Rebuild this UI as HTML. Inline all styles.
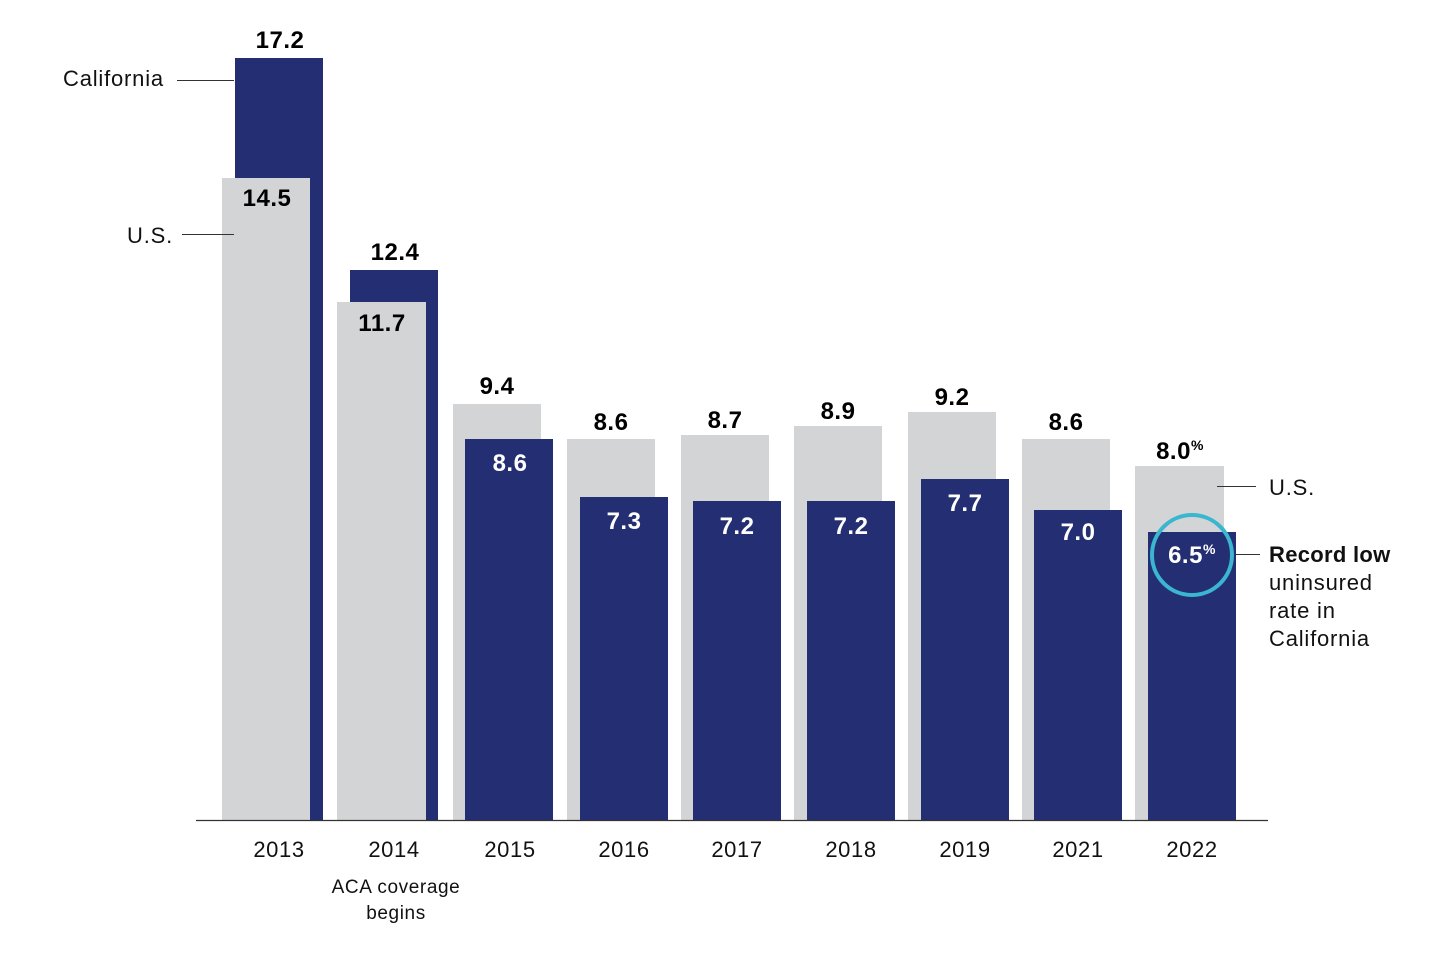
<!DOCTYPE html>
<html><head><style>
body{margin:0;background:#fff;}
svg text{font-family:"Liberation Sans",sans-serif;}
</style></head><body>
<svg width="1433" height="950" viewBox="0 0 1433 950" xmlns="http://www.w3.org/2000/svg">
<rect x="235" y="58" width="88" height="762" fill="#242e72"/>
<rect x="222" y="178" width="88" height="642" fill="#d3d4d6"/>
<rect x="350" y="270" width="88" height="550" fill="#242e72"/>
<rect x="337" y="302" width="89" height="518" fill="#d3d4d6"/>
<rect x="453" y="404" width="88" height="416" fill="#d3d4d6"/>
<rect x="465" y="439" width="88" height="381" fill="#242e72"/>
<rect x="567" y="439" width="88" height="381" fill="#d3d4d6"/>
<rect x="580" y="497" width="88" height="323" fill="#242e72"/>
<rect x="681" y="435" width="88" height="385" fill="#d3d4d6"/>
<rect x="693" y="501" width="88" height="319" fill="#242e72"/>
<rect x="794" y="426" width="88" height="394" fill="#d3d4d6"/>
<rect x="807" y="501" width="88" height="319" fill="#242e72"/>
<rect x="908" y="412" width="88" height="408" fill="#d3d4d6"/>
<rect x="921" y="479" width="88" height="341" fill="#242e72"/>
<rect x="1022" y="439" width="88" height="381" fill="#d3d4d6"/>
<rect x="1034" y="510" width="88" height="310" fill="#242e72"/>
<rect x="1135" y="466" width="89" height="354" fill="#d3d4d6"/>
<rect x="1148" y="532" width="88" height="288" fill="#242e72"/>
<line x1="196" y1="820.5" x2="1268" y2="820.5" stroke="#333" stroke-width="1.2"/>
<g font-size="24" font-weight="bold" text-anchor="middle" fill="#000" letter-spacing="0.5">
<text x="280" y="48">17.2</text>
<text x="267" y="206">14.5</text>
<text x="395" y="260">12.4</text>
<text x="382" y="331">11.7</text>
<text x="497" y="394">9.4</text>
<text x="611" y="430">8.6</text>
<text x="725" y="428">8.7</text>
<text x="838" y="419">8.9</text>
<text x="952" y="405">9.2</text>
<text x="1066" y="430">8.6</text>
<text x="1180" y="459">8.0<tspan font-size="14" dy="-9">%</tspan></text>
</g>
<g font-size="24" font-weight="bold" text-anchor="middle" fill="#fff" letter-spacing="0.5">
<text x="510" y="471">8.6</text>
<text x="624" y="529">7.3</text>
<text x="737" y="534">7.2</text>
<text x="851" y="534">7.2</text>
<text x="965" y="511">7.7</text>
<text x="1078" y="540">7.0</text>
<text x="1192" y="563">6.5<tspan font-size="14" dy="-9">%</tspan></text>
</g>
<circle cx="1192" cy="555" r="40" fill="none" stroke="#3bb6d0" stroke-width="4"/>
<g font-size="22" fill="#111" text-anchor="middle" letter-spacing="0.6">
<text x="279" y="857">2013</text><text x="394" y="857">2014</text><text x="510" y="857">2015</text>
<text x="624" y="857">2016</text><text x="737" y="857">2017</text><text x="851" y="857">2018</text>
<text x="965" y="857">2019</text><text x="1078" y="857">2021</text><text x="1192" y="857">2022</text>
<text x="396" y="893" font-size="19">ACA coverage</text>
<text x="396" y="919" font-size="19">begins</text>
</g>
<g font-size="22" fill="#111" letter-spacing="0.8">
<text x="63" y="86">California</text>
<line x1="177" y1="80.5" x2="234" y2="80.5" stroke="#333"/>
<text x="127" y="243">U.S.</text>
<line x1="182" y1="234.5" x2="234" y2="234.5" stroke="#333"/>
<line x1="1217" y1="486.5" x2="1256" y2="486.5" stroke="#333"/>
<text x="1269" y="495">U.S.</text>
<line x1="1236" y1="554.5" x2="1260" y2="554.5" stroke="#333"/>
<text x="1269" y="562" font-weight="bold" letter-spacing="0.3">Record low</text>
<text x="1269" y="590">uninsured</text>
<text x="1269" y="618">rate in</text>
<text x="1269" y="646">California</text>
</g>
</svg>
</body></html>
